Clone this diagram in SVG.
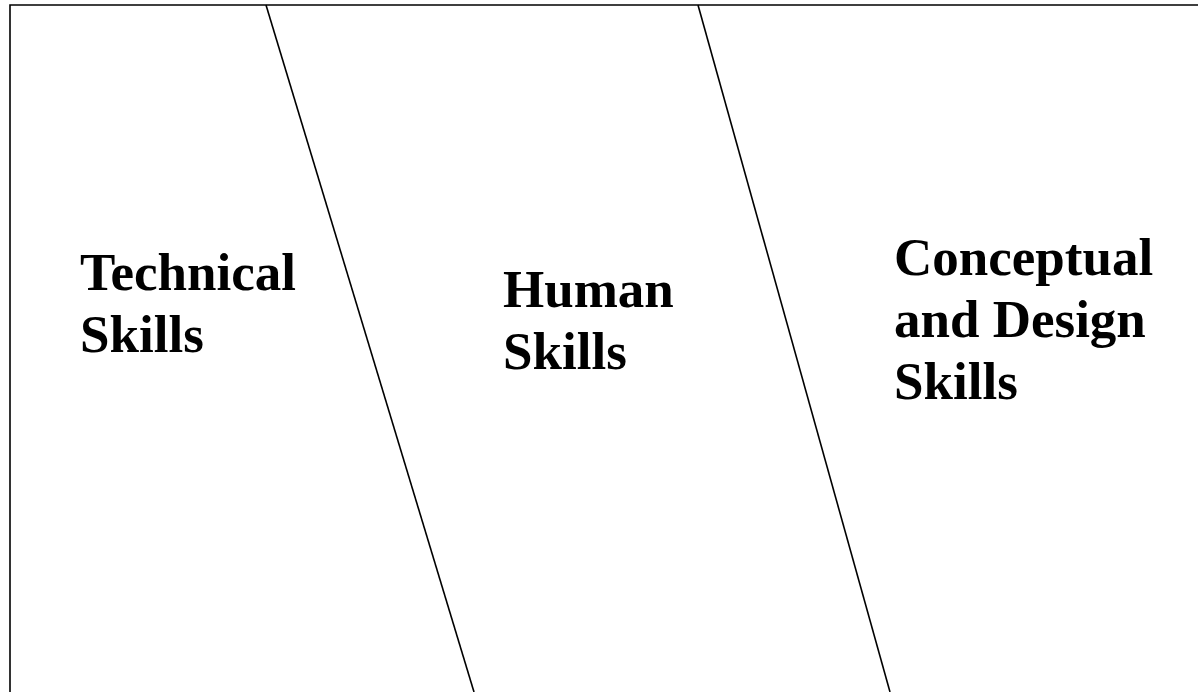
<svg xmlns="http://www.w3.org/2000/svg" width="1198" height="692" viewBox="0 0 1198 692">
<style>
.ln{stroke:#000;stroke-width:1.6;fill:none}
.t{font-family:"Liberation Serif","Times New Roman",serif;font-weight:bold;font-size:53px;fill:#000}
</style>
<rect width="1198" height="692" fill="#fff"/>
<g id="connectors">
<path class="ln" d="M10,692 L10,5 L1198,5"/>
<line class="ln" x1="266" y1="5" x2="474" y2="692"/>
<line class="ln" x1="698" y1="5" x2="890" y2="692"/>
</g>
<g id="technical"><text class="t" x="80" y="290">Technical</text><text class="t" x="80" y="352">Skills</text></g>
<g id="human"><text class="t" x="503" y="307">Human</text><text class="t" x="503" y="369">Skills</text></g>
<g id="conceptual"><text class="t" x="894" y="275">Conceptual</text><text class="t" x="894" y="337">and Design</text><text class="t" x="894" y="399">Skills</text></g>
</svg>
